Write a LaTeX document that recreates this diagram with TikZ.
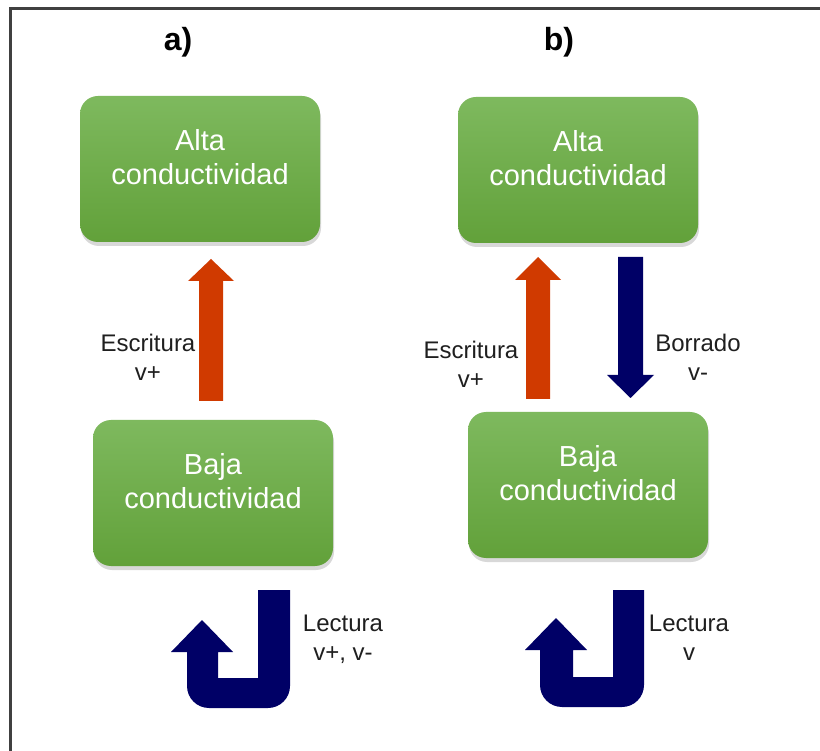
\documentclass[tikz,border=0pt]{standalone}
\usepackage{fontspec}
\setmainfont{Liberation Sans}
\usetikzlibrary{calc,shadows}
\definecolor{gtop}{RGB}{126,185,94}
\definecolor{gbot}{RGB}{98,161,58}
\definecolor{redc}{RGB}{208,58,0}
\definecolor{navyc}{RGB}{0,0,102}
\definecolor{framec}{RGB}{64,64,64}
\begin{document}
\begin{tikzpicture}[x=1pt,y=-1pt,
  box/.style={rectangle, rounded corners=18pt, minimum width=240pt, minimum height=146pt,
    top color=gtop, bottom color=gbot, draw=none,
    drop shadow={shadow xshift=1pt, shadow yshift=-4pt, opacity=0.3}},
  boxtext/.style={align=center, text=white, font=\fontsize{29}{34}\selectfont},
  lbl/.style={align=center, text=black!88, font=\fontsize{24}{29}\selectfont},
  ttl/.style={font=\fontsize{32}{38}\selectfont\bfseries},
  redarrow/.style={fill=redc, draw=none},
  bluearrow/.style={fill=navyc, draw=none}]
\useasboundingbox (0,0) rectangle (820,751);
\fill[white] (0,0) rectangle (820,751);
% frame
\draw[framec, line width=2.4pt] (10.5,751) -- (10.5,8.7) -- (820,8.7);
% titles
\node[ttl] (ta) at (178,42) {a)};
\node[ttl] (tb) at (559,42) {b)};
% boxes
\node[box] (altaA) at (200,169) {};
\node[box] (bajaA) at (213,493) {};
\node[box] (altaB) at (578,170) {};
\node[box] (bajaB) at (588,485) {};
\node[boxtext] (tAltaA) at ($(altaA.center)+(0,-12)$) {Alta\\conductividad};
\node[boxtext] (tBajaA) at ($(bajaA.center)+(0,-12)$) {Baja\\conductividad};
\node[boxtext] (tAltaB) at ($(altaB.center)+(0,-12)$) {Alta\\conductividad};
\node[boxtext] (tBajaB) at ($(bajaB.center)+(0,-12)$) {Baja\\conductividad};
% straight arrows
\fill[redarrow] (199,401) -- (199,281) -- (188,281) -- (211,259) -- (234,281) -- (223,281) -- (223,401) -- cycle;
\fill[redarrow] (526,399) -- (526,280) -- (515,280) -- (538,257) -- (561,280) -- (550,280) -- (550,399) -- cycle;
\fill[bluearrow] (618,257) -- (618,375) -- (607,375) -- (630.5,398) -- (654,375) -- (643,375) -- (643,257) -- cycle;
% U-turn arrows
\fill[bluearrow] (258,590) -- (290,590) [rounded corners=22pt] -- (290,708) -- (187,708) [sharp corners] -- (187,652) -- (171,652) -- (202,620) -- (233,652) -- (218,652) -- (218,678) -- (258,678) -- cycle;
\fill[bluearrow] (613,590) -- (644,590) [rounded corners=22pt] -- (644,707) -- (540,707) [sharp corners] -- (540,650) -- (525,650) -- (556,618) -- (587,650) -- (573,650) -- (573,677) -- (613,677) -- cycle;
% labels
\node[lbl] (lEscA) at (148,357.5) {Escritura\\v+};
\node[lbl] (lEscB) at (471,364) {Escritura\\v+};
\node[lbl] (lBor) at (698,357.5) {Borrado\\v-};
\node[lbl] (lLecA) at (343,639) {Lectura\\v+, v-};
\node[lbl] (lLecB) at (689,637.5) {Lectura\\v};
\end{tikzpicture}
\end{document}
